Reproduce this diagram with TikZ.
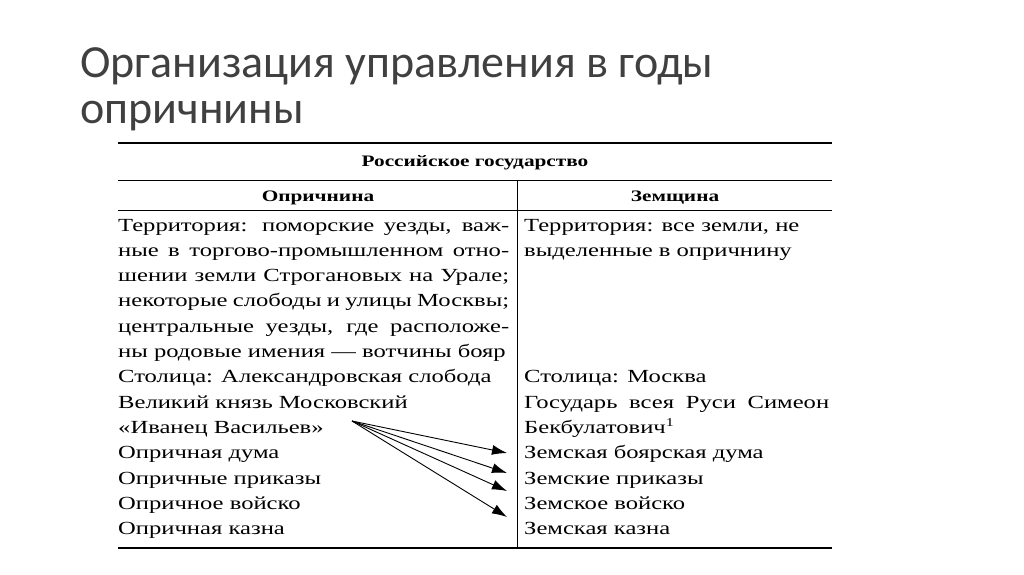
\documentclass[tikz,border=0pt]{standalone}
\usepackage{fontspec}
\setmainfont{Liberation Serif}[FakeStretch=1.33]
\newfontfamily\titlefont{Carlito}
\usetikzlibrary{arrows.meta}
\begin{document}
\begin{tikzpicture}[x=1pt,y=-1pt,
  ln/.style={anchor=base west,inner sep=0pt,font=\fontsize{18.5}{20}\selectfont},
  hd/.style={anchor=base,inner sep=0pt,font=\bfseries\fontsize{16}{18}\selectfont},
  ar/.style={-{Latex[length=15pt,width=10pt]},line width=0.9pt}]
\useasboundingbox (0,0) rectangle (1024,574);
\node[anchor=base west,inner sep=0pt,text=black!75,font=\titlefont\fontsize{46}{50}\selectfont] (t1) at (80,77) {Организация управления в годы};
\node[anchor=base west,inner sep=0pt,text=black!75,font=\titlefont\fontsize{46}{50}\selectfont] (t2) at (80,123) {опричнины};
\draw[line width=1.6pt] (118,143) -- (832,143);
\draw[line width=0.8pt] (118,180) -- (832,180);
\draw[line width=0.8pt] (118,210) -- (832,210);
\draw[line width=1.2pt] (118,548) -- (832,548);
\draw[line width=0.8pt] (517,180) -- (517,548);
\node[hd] (h0) at (475,166) {Российское государство};
\node[hd] (h1) at (318,201) {Опричнина};
\node[hd] (h2) at (675,201) {Земщина};
\def\L#1#2{\node[ln] at (118,{231+25.3*#1}) {#2};}
\def\R#1#2{\node[ln] at (524,{231+25.3*#1}) {#2};}
\L0{\makebox[391pt][s]{Территория: поморские уезды, важ-}}
\L1{\makebox[391pt][s]{ные в торгово-промышленном отно-}}
\L2{\makebox[391pt][s]{шении земли Строгановых на Урале;}}
\L3{\makebox[391pt][s]{некоторые слободы и улицы Москвы;}}
\L4{\makebox[391pt][s]{центральные уезды, где расположе-}}
\L5{ны родовые имения — вотчины бояр}
\L6{Столица: Александровская слобода}
\L7{Великий князь Московский}
\L8{«Иванец Васильев»}
\L9{Опричная дума}
\L{10}{Опричные приказы}
\L{11}{Опричное войско}
\L{12}{Опричная казна}
\R0{Территория: все земли, не}
\R1{выделенные в опричнину}
\R6{Столица: Москва}
\R7{\makebox[305pt][s]{Государь всея Руси Симеон}}
\R8{Бекбулатович\raisebox{7pt}{\fontsize{12}{12}\selectfont 1}}
\R9{Земская боярская дума}
\R{10}{Земские приказы}
\R{11}{Земское войско}
\R{12}{Земская казна}
\coordinate (s) at (352,421);
\coordinate (e1) at (507,453);
\coordinate (e2) at (507,473);
\coordinate (e3) at (507,491);
\coordinate (e4) at (507,517);
\foreach \e in {e1,e2,e3,e4} \draw[ar] (s) -- (\e);
\end{tikzpicture}
\end{document}
